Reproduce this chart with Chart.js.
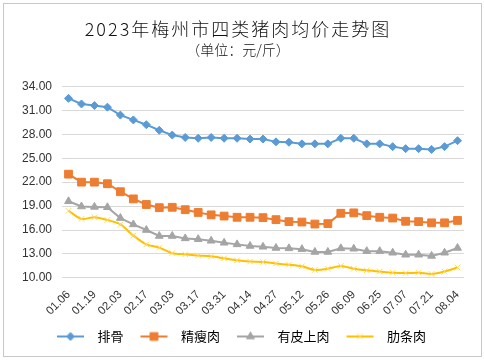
<!DOCTYPE html>
<html>
<head>
<meta charset="utf-8">
<script src="https://cdn.jsdelivr.net/npm/chart.js@4"></script>
<style>
  html, body { margin: 0; padding: 0; background: #fff; }
  #wrap { position: relative; width: 485px; height: 361px; }
  #frame { position: absolute; left: 3px; top: 3px; width: 477px; height: 352px; border: 1px solid #c8c8c8; pointer-events: none; }
</style>
</head>
<body>
<div id="wrap">
  <canvas id="chart" width="485" height="361"></canvas>
  <div id="frame"></div>
</div>
<script>
const dates = ['01.06', '01.13', '01.19', '01.28', '02.03', '02.10', '02.17', '02.24', '03.03', '03.10',
  '03.17', '03.24', '03.31', '04.07', '04.14', '04.21', '04.27', '05.05', '05.12', '05.19',
  '05.26', '06.02', '06.09', '06.16', '06.25', '06.30', '07.07', '07.14', '07.21', '07.28', '08.04'];

const paigu = [32.5, 31.8, 31.6, 31.4, 30.4, 29.8, 29.2, 28.5, 27.9, 27.6, 27.5, 27.6, 27.5, 27.5, 27.4,
  27.4, 27.05, 27.0, 26.8, 26.8, 26.8, 27.5, 27.5, 26.8, 26.8, 26.45, 26.2, 26.2, 26.1, 26.45, 27.2];
const jingshourou = [23.0, 22.0, 22.0, 21.8, 20.8, 19.9, 19.2, 18.8, 18.85, 18.55, 18.2, 17.9, 17.75, 17.6, 17.6,
  17.55, 17.3, 17.05, 17.0, 16.75, 16.8, 18.1, 18.15, 17.8, 17.6, 17.5, 17.1, 17.05, 16.9, 16.9, 17.2];
const youpishangrou = [19.6, 18.95, 18.9, 18.85, 17.5, 16.7, 16.0, 15.25, 15.25, 14.95, 14.85, 14.65, 14.4, 14.2, 14.0,
  13.9, 13.75, 13.7, 13.6, 13.25, 13.25, 13.7, 13.65, 13.35, 13.35, 13.15, 12.9, 12.9, 12.75, 13.15, 13.75];
const leitiaorou = [18.4, 17.4, 17.6, 17.25, 16.7, 15.3, 14.2, 13.8, 13.1, 12.95, 12.8, 12.7, 12.45, 12.2, 12.05,
  12.0, 11.8, 11.65, 11.45, 11.0, 11.15, 11.5, 11.15, 10.95, 10.8, 10.65, 10.6, 10.65, 10.5, 10.8, 11.3];

const seriesNames = ['排骨', '精瘦肉', '有皮上肉', '肋条肉'];
const yTicks = [10, 13, 16, 19, 22, 25, 28, 31, 34];

const styles = [
  { color: '#5B9BD5', point: 'rectRot', r: 4, pointColor: '#5B9BD5' },
  { color: '#ED7D31', point: 'rect', r: 5.5, pointColor: '#ED7D31' },
  { color: '#A5A5A5', point: 'triangle', r: 4.5, pointColor: '#A5A5A5' },
  { color: '#FFC000', point: 'crossRot', r: 4, pointColor: '#FFD966' }
];
const values = [paigu, jingshourou, youpishangrou, leitiaorou];

// small line+marker picture for each legend entry (7px blank on the left)
function legendIcon(s) {
  const c = document.createElement('canvas');
  c.width = 41; c.height = 12;
  const ctx = c.getContext('2d');
  ctx.strokeStyle = s.color;
  ctx.lineWidth = 2;
  ctx.beginPath(); ctx.moveTo(7, 6); ctx.lineTo(34, 6); ctx.stroke();
  ctx.fillStyle = s.pointColor;
  ctx.strokeStyle = s.pointColor;
  ctx.lineWidth = 1;
  Chart.helpers.drawPoint(ctx, { pointStyle: s.point, radius: s.r, rotation: 0, borderWidth: 1 }, 20.5, 6);
  return c;
}

const datasets = values.map((v, i) => ({
  label: seriesNames[i],
  data: v,
  borderColor: styles[i].color,
  backgroundColor: styles[i].pointColor,
  pointBorderColor: styles[i].pointColor,
  pointStyle: styles[i].point,
  pointRadius: styles[i].r,
  pointBorderWidth: 1,
  borderWidth: 2,
  tension: i === 3 ? 0.3 : 0
}));

const icons = styles.map(legendIcon);

// spread the title's characters a little, as in the original
const titleSpacing = {
  id: 'titleSpacing',
  beforeDraw(chart) {
    const t = chart.titleBlock;
    if (t && !t._spaced) {
      const orig = t.draw.bind(t);
      t.draw = function() {
        this.ctx.save();
        this.ctx.letterSpacing = '2px';
        orig();
        this.ctx.restore();
      };
      t._spaced = true;
    }
  }
};

new Chart(document.getElementById('chart').getContext('2d'), {
  type: 'line',
  data: { labels: dates, datasets: datasets },
  plugins: [titleSpacing],
  options: {
    responsive: false,
    animation: false,
    layout: { padding: { left: 12, right: 21, top: 0, bottom: 8 } },
    plugins: {
      title: {
        display: true,
        text: '2023年梅州市四类猪肉均价走势图',
        color: '#111',
        font: { family: '"Noto Sans CJK SC", sans-serif', size: 18, weight: 300 },
        padding: { top: 18, bottom: 2 }
      },
      subtitle: {
        display: true,
        text: '（单位：元/斤）',
        color: '#111',
        font: { family: '"Noto Sans CJK SC", sans-serif', size: 14, weight: 300 },
        padding: { bottom: 28 }
      },
      legend: {
        position: 'bottom',
        labels: {
          usePointStyle: true,
          pointStyleWidth: 41,
          padding: 10,
          color: '#333',
          font: { family: '"Noto Sans CJK SC", sans-serif', size: 13 },
          generateLabels: chart => chart.data.datasets.map((d, i) => ({
            text: d.label,
            pointStyle: icons[i],
            fillStyle: d.borderColor,
            strokeStyle: d.borderColor,
            lineWidth: 0,
            datasetIndex: i,
            hidden: false
          }))
        }
      },
      tooltip: { enabled: false }
    },
    scales: {
      x: {
        offset: true,
        grid: { display: false },
        border: { display: false },
        ticks: {
          autoSkip: false,
          maxRotation: 45,
          minRotation: 45,
          padding: 2,
          color: '#333',
          font: { family: '"Liberation Sans", sans-serif', size: 11.5 },
          callback: function(val, idx) { return idx % 2 === 0 ? this.getLabelForValue(val) : ''; }
        }
      },
      y: {
        min: yTicks[0],
        max: yTicks[yTicks.length - 1],
        afterBuildTicks: axis => { axis.ticks = yTicks.map(v => ({ value: v })); },
        border: { display: false },
        grid: { color: '#d9d9d9', lineWidth: 1, drawTicks: false },
        ticks: {
          padding: 10,
          color: '#333',
          font: { family: '"Liberation Sans", sans-serif', size: 12 },
          callback: v => v.toFixed(2)
        }
      }
    }
  }
});
</script>
</body>
</html>
